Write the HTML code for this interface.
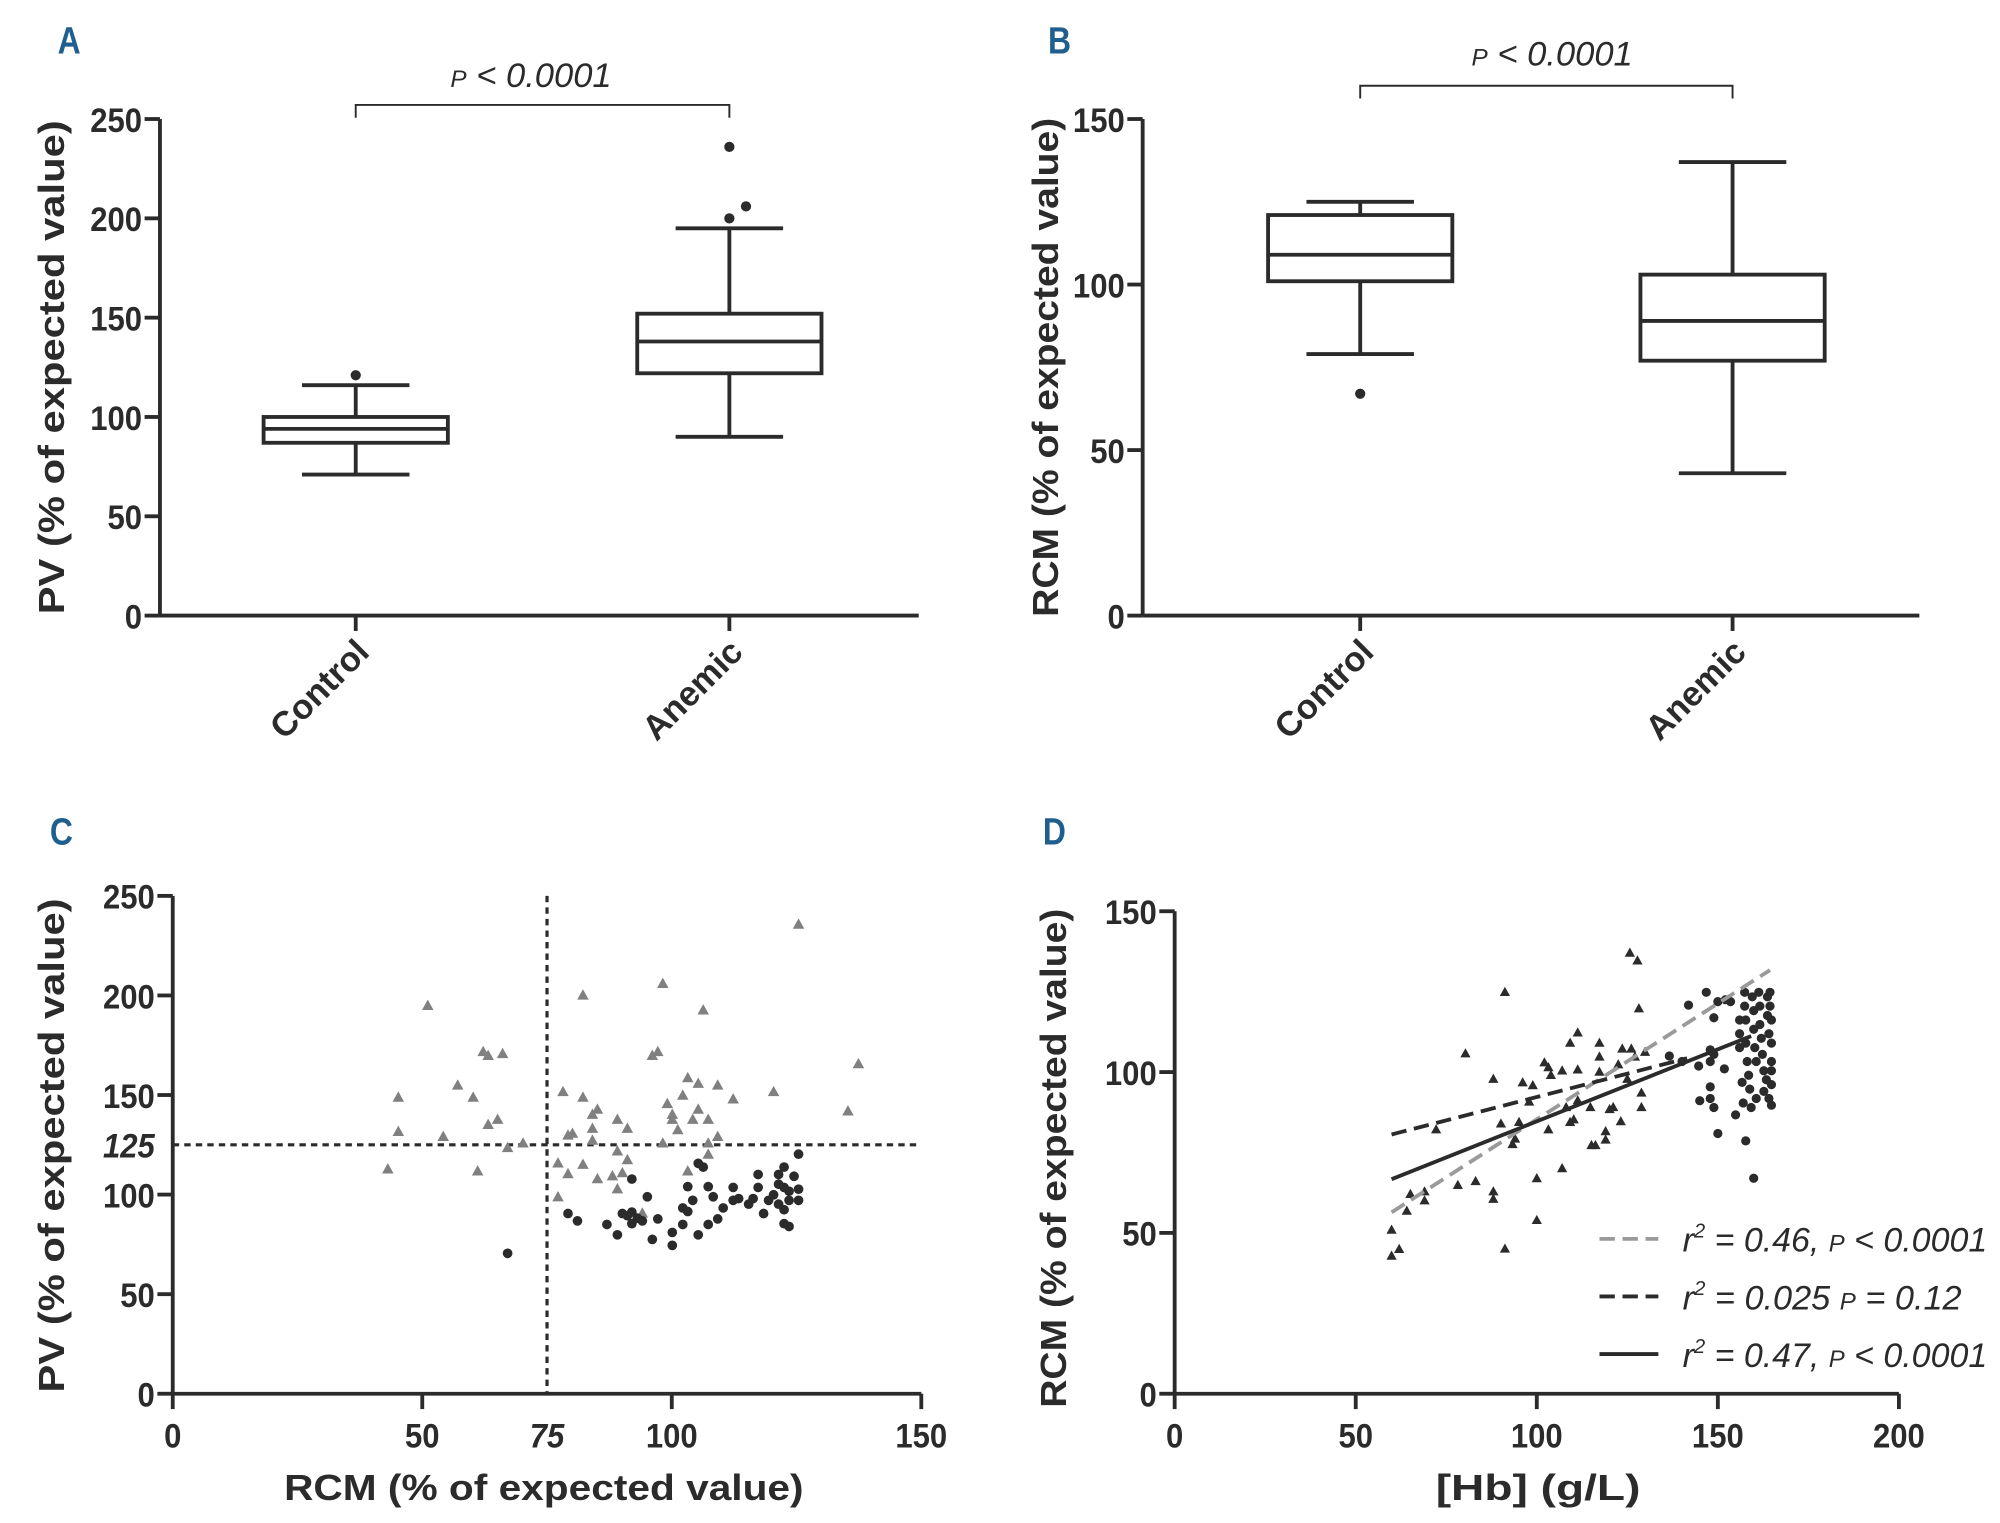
<!DOCTYPE html>
<html><head><meta charset="utf-8"><style>
html,body{margin:0;padding:0;background:#fff;}
svg{display:block;}
text{font-family:"Liberation Sans Narrow","Liberation Sans",sans-serif;fill:#2b2b2b;}
.tick{font-size:27px;font-weight:bold;}
.title{font-family:"Liberation Sans",sans-serif;font-size:28px;font-weight:bold;}
.letter{font-size:30px;font-weight:bold;fill:#1f5f8f;}
.ital{font-style:italic;font-size:27px;}
</style></head><body>
<svg id="fig" width="2000" height="1523" viewBox="0 0 1563 1190" preserveAspectRatio="none" xmlns="http://www.w3.org/2000/svg"></svg>
<script>
// ---- Panel A data (PV) ----
const aCategories = ["Control","Anemic"];
const aWhiskLow = [71, 90];
const aQ1 = [87, 122];
const aMedian = [94, 138];
const aQ3 = [100, 152];
const aWhiskHigh = [116, 195];
const aOutliers = [[121],[200,206,236]];
const aTicks = [0,50,100,150,200,250];
// ---- Panel B data (RCM) ----
const bCategories = ["Control","Anemic"];
const bWhiskLow = [79, 43];
const bQ1 = [101, 77];
const bMedian = [109, 89];
const bQ3 = [121, 103];
const bWhiskHigh = [125, 137];
const bOutliers = [[67],[]];
const bTicks = [0,50,100,150];
// ---- Panel C data ----
const cTriX = [43.1,45.2,45.2,51.1,54.2,57.1,60.2,61.1,62.2,63.2,63.2,65.1,66.1,67.1,70.2,77.2,77.2,78.2,79.2,80.1,79.2,82.2,82.2,82.2,84.1,85.1,84.1,84.1,85.1,88.1,89.1,89.1,89.1,90.1,91.1,91.1,94.1,96.1,97.2,98.2,98.2,99.1,100.1,100.1,101.2,102.2,103.2,103.2,104.2,105.3,105.3,106.3,107.3,107.3,107.3,109.2,109.2,112.3,120.4,125.4,135.3,137.4];
const cTriY = [112.7,148.7,131.5,194.8,129,154.8,148.7,111.7,171.6,169.7,135,137.6,170.6,123.4,125.7,115.7,98.7,151.5,129.7,130.6,110.3,200,148.7,115,140.1,142.7,133.1,127.1,107.8,109.2,137.6,121.7,102.7,110.8,133.1,117.3,90.5,169.7,171.6,205.8,125.7,145.5,140.1,137.6,132.4,149.7,158.5,111.7,137.6,155.7,142.7,192.5,137.6,125.7,120.1,129,154.8,147.8,151.5,235.6,141.8,165.5];
const cCirX = [67.1,79.2,81.1,87,89.1,90.1,91.1,92,93.1,92,94.1,95.1,96.1,97.2,92,100.1,100.1,102.2,102.2,103.2,104.2,103.2,105.3,106.3,105.3,107.3,107.3,108.3,109.2,110.3,112.3,112.3,113.4,115.4,116.3,117.3,117.3,118.4,119.4,120.4,121.4,121.4,122.5,122.5,122.5,123.5,123.5,124.5,125.4,125.4,125.4,121.4,123.5,122.5];
const cCirY = [70.5,90.5,86.8,85,79.8,90.5,89.4,91.2,88.2,85.4,86.8,98.9,77.5,87.8,107.8,81,74.5,93.3,85,91.5,97.1,104,115.7,113.8,79.8,85,104,98.9,87.8,93.3,97.1,103.6,98,95.2,98,103.6,110.1,90.5,97.1,99.9,110.1,95.2,113.8,103.6,85.4,84,97.1,109.2,120.3,102.7,97.1,105.2,101.7,92.4];
const cXTicks = [0,50,100,150];
const cYTicks = [0,50,100,150,200,250];
const cCutX = 75, cCutY = 125;
// ---- Panel D data ----
const dTriX = [59.9,59.9,62,64.1,65.1,69,69,72.2,78.2,80.3,83.1,88,88,88,90.1,91.2,91.2,93.3,94,95.1,96.1,97.9,98.9,102.1,103.2,103.2,103.9,100,100,107,107,108.1,109.2,109.2,110.2,111.3,111.3,111.3,114.8,115.1,116.2,117.3,117.3,117.3,119,119,120.1,121.1,122.5,123.2,123.6,125,125.7,126.1,127.1,127.8,128.2,128.9,128.9,129.9];
const dTriY = [50.9,42.8,44.9,56.8,62,62.8,60,82.1,64.8,105.7,66,97.8,62.8,60.5,83.9,124.8,45,77.5,79.2,84.4,96.7,90.7,95.8,102.9,101.4,82.1,99,66.9,53.9,100.4,70,89,109,84.4,85.2,112.2,100.7,91.1,89,77.2,77.2,109,104.7,100,81.5,78.9,88.4,89,102.3,84.6,107.2,97.8,137,107.2,104.7,134.6,119.7,93.5,89,106.2];
const dCirX = [141.9,146.8,148.9,150,152.1,153.5,136.6,140.1,144.7,147.9,147.9,148.9,151.8,145,147.9,147.9,148.9,150,154.9,157.7,159.9,156,156,156,156.7,157,157.4,157.4,157.7,157.7,158.1,158.5,158.8,159.2,159.5,159.9,159.9,160.2,160.6,160.6,161.3,161.6,161.6,162,162.3,162.7,162.7,163.4,163.7,163.7,164.1,164.1,164.4,164.4,164.8,164.8,164.8,164.8,164.8,164.8];
const dCirY = [120.8,124.8,116.9,121.9,122.5,121.9,105,103.3,101.9,106.9,103.3,105.5,101,91.1,95.4,91.8,89,80.9,86.7,78.6,67,116.2,111.9,107.6,96.8,90.4,124.8,120.5,116.2,109,103.3,99,94.7,89,123.4,119.1,113.3,107.6,103.3,91.8,124.8,120.5,114.8,110.5,105.5,100.4,94,97.6,123.4,117.6,111.9,91.8,124.8,120.5,116.2,109,103.3,100.4,89.7,96.1];
const dFitNames = ["fit-line-all","fit-line-anemic","fit-line-control-combined"];
const dFitX0 = [59.9, 59.9, 59.9];
const dFitY0 = [56.4, 80.6, 66.7];
const dFitX1 = [164.4, 141.5, 159.2];
const dFitY1 = [131.7, 104.3, 111.2];
const dLegendLabels = ["= 0.46, ", "= 0.025 ", "= 0.47, "];
const dLegendP = ["< 0.0001", "= 0.12", "< 0.0001"];
const dLegendW = [238, 218, 238];
const dXTicks = [0,50,100,150,200];
const dYTicks = [0,50,100,150];

const NS="http://www.w3.org/2000/svg";
const svg=document.getElementById('fig');
const INK="#2b2b2b";
function mk(tag,attrs,parent,text){const e=document.createElementNS(NS,tag);for(const k in attrs)e.setAttribute(k,attrs[k]);if(text!==undefined)e.textContent=text;(parent||svg).appendChild(e);return e;}
function lin(d0,d1,r0,r1){return v=>r0+(v-d0)*(r1-r0)/(d1-d0);}
function tickText(g,x,y,s,anchor,extra){
  const a={x:x,y:y,'text-anchor':anchor,class:'tick',textLength:s.length*13.5,lengthAdjust:'spacingAndGlyphs'};
  if(extra)for(const k in extra)a[k]=extra[k];
  return mk('text',a,g,s);
}

function letter(t,x,y){const e=mk('text',{x:x,y:y,class:'letter',textLength:18,lengthAdjust:'spacingAndGlyphs'},svg,t);

}

function yAxis(g,ax,y,ticks){
  const l=mk('line',{x1:ax,y1:y(ticks[ticks.length-1]),x2:ax,y2:y(0),stroke:INK,'stroke-width':3},g);
  
  
  ticks.forEach(t=>{
    const tl=mk('line',{x1:ax-12,y1:y(t),x2:ax,y2:y(t),stroke:INK,'stroke-width':3},g);
    
    
    const tx=tickText(g,ax-14,y(t)+10,String(t),'end');
    
    
  });
}
function yTitle(g,x,cy,t,len){
  const e=mk('text',{x:0,y:0,class:'title','text-anchor':'middle',transform:`translate(${x},${cy}) rotate(-90)`,textLength:len,lengthAdjust:'spacingAndGlyphs'},g,t);
  
  
}

function boxPanel(name,ax,xEnd,yTop,yBot,ticks,cats,cx,lo,q1,med,q3,hi,outs,brY,brTxtX,pY,titleX,title){
  const g=mk('g',{});
  
  
  const y=lin(0,ticks[ticks.length-1],yBot,yTop);
  yAxis(g,ax,y,ticks);
  const xl=mk('line',{x1:ax,y1:yBot,x2:xEnd,y2:yBot,stroke:INK,'stroke-width':3},g);
  
  
  yTitle(g,titleX,287,title,title.length>24?390:386);
  cats.forEach((c,i)=>{
    const x=cx[i];
    const tk=mk('line',{x1:x,y1:yBot,x2:x,y2:yBot+12,stroke:INK,'stroke-width':3},g);
    
    
    const lb=mk('text',{x:0,y:0,class:'tick',style:'font-family:"Liberation Sans",sans-serif;font-size:27px','text-anchor':'end',transform:`translate(${x+12},${yBot+30}) rotate(-45)`},g,c);
    
    
    const bg=mk('g',{stroke:INK,'stroke-width':3,fill:'none'},g);
    
    
    const hw=72,cw=42;
    mk('rect',{x:x-hw,y:y(q3[i]),width:2*hw,height:y(q1[i])-y(q3[i])},bg);
    mk('line',{x1:x-hw,y1:y(med[i]),x2:x+hw,y2:y(med[i])},bg);
    mk('line',{x1:x,y1:y(q3[i]),x2:x,y2:y(hi[i])},bg);
    mk('line',{x1:x,y1:y(q1[i]),x2:x,y2:y(lo[i])},bg);
    mk('line',{x1:x-cw,y1:y(hi[i]),x2:x+cw,y2:y(hi[i])},bg);
    mk('line',{x1:x-cw,y1:y(lo[i]),x2:x+cw,y2:y(lo[i])},bg);
    outs[i].forEach((o,k)=>{
      const dx=(outs[i].length>1&&k===1)?13:0;
      const oc=mk('circle',{cx:x+dx,cy:y(o),r:4,fill:INK,stroke:'none'},g);
      
      
    });
  });
  const br=mk('path',{d:`M${cx[0]},${brY+10} V${brY} H${cx[1]} V${brY+10}`,stroke:INK,'stroke-width':1.5,fill:'none'},g);
  
  
  const pt=mk('text',{x:brTxtX,y:pY,class:'ital','text-anchor':'middle',textLength:126,lengthAdjust:'spacingAndGlyphs'},g);
  
  
  mk('tspan',{'font-size':'19'},pt,'P');
  mk('tspan',{},pt,' < 0.0001');
}

letter('A',45,42); letter('B',819,42); letter('C',39,660); letter('D',815,660);
boxPanel('a',125,718,93,481,aTicks,aCategories,[278,570],aWhiskLow,aQ1,aMedian,aQ3,aWhiskHigh,aOutliers,82,415,68,50,'PV (% of expected value)');
boxPanel('b',893,1500,93,481,bTicks,bCategories,[1063,1354],bWhiskLow,bQ1,bMedian,bQ3,bWhiskHigh,bOutliers,67,1213,51,827,'RCM (% of expected value)');

function tri(g,cx,cy,s,fill,name){
  const h=s*0.9;
  const p=mk('polygon',{points:`${cx},${cy-h*0.6} ${cx-s/2},${cy+h*0.4} ${cx+s/2},${cy+h*0.4}`,fill:fill},g);
  
  
}
function xAxis(g,x,ticks,y0,ax0){
  ticks.forEach(t=>{
    const tl=mk('line',{x1:x(t),y1:y0,x2:x(t),y2:y0+12,stroke:INK,'stroke-width':3},g);
    
    
    const tx=tickText(g,x(t),y0+42,String(t),'middle');
    
    
  });
  const l=mk('line',{x1:ax0,y1:y0,x2:x(ticks[ticks.length-1]),y2:y0,stroke:INK,'stroke-width':3},g);
  
  
}

// Panel C
(function(){
  const g=mk('g',{});
  
  
  const x=lin(0,150,135,720), y=lin(0,250,1089,700);
  yAxis(g,135,y,cYTicks);
  xAxis(g,x,cXTicks,1089,135);
  const vl=mk('line',{x1:x(cCutX),y1:y(250),x2:x(cCutX),y2:1089,stroke:INK,'stroke-width':2.5,'stroke-dasharray':'5,4'},g);
  
  
  const hl=mk('line',{x1:135,y1:y(cCutY),x2:720,y2:y(cCutY),stroke:INK,'stroke-width':2.5,'stroke-dasharray':'5,4'},g);
  
  
  const l1=tickText(g,121,y(cCutY)+10,String(cCutY),'end',{'font-style':'italic','font-weight':'normal'});
  
  
  const l2=tickText(g,x(cCutX),1131,String(cCutX),'middle',{'font-style':'italic','font-weight':'normal'});
  
  
  cTriX.forEach((v,i)=>tri(g,x(v),y(cTriY[i]),9,'#808080','point-anemic'));
  cCirX.forEach((v,i)=>{
    const c=mk('circle',{cx:x(v),cy:y(cCirY[i]),r:3.8,fill:INK},g);
    
    
  });
  yTitle(g,50,895,'PV (% of expected value)',386);
  const xt=mk('text',{x:425,y:1172,'text-anchor':'middle',class:'title',textLength:406,lengthAdjust:'spacingAndGlyphs'},g,'RCM (% of expected value)');
  
  
})();

// Panel D
(function(){
  const g=mk('g',{});
  
  
  const x=lin(0,200,918,1484), y=lin(0,150,1089,712);
  yAxis(g,918,y,dYTicks);
  xAxis(g,x,dXTicks,1089,918);
  dTriX.forEach((v,i)=>tri(g,x(v),y(dTriY[i]),8,INK,'point-anemic'));
  dCirX.forEach((v,i)=>{
    const c=mk('circle',{cx:x(v),cy:y(dCirY[i]),r:3.6,fill:INK},g);
    
    
  });
  const styles=[{stroke:'#9a9a9a',dash:'12,6'},{stroke:INK,dash:'12,6'},{stroke:INK,dash:''}];
  dFitX0.forEach((v,i)=>{
    const a={x1:x(v),y1:y(dFitY0[i]),x2:x(dFitX1[i]),y2:y(dFitY1[i]),stroke:styles[i].stroke,'stroke-width':3};
    if(styles[i].dash)a['stroke-dasharray']=styles[i].dash;
    const l=mk('line',a,g);
    
    
    const ly=968+i*45;
    const la={x1:1250,y1:ly,x2:1296,y2:ly,stroke:styles[i].stroke,'stroke-width':3};
    if(styles[i].dash)la['stroke-dasharray']=styles[i].dash;
    const ls=mk('line',la,g);
    
    
    const t=mk('text',{x:1315,y:ly+10,class:'ital',textLength:dLegendW[i],lengthAdjust:'spacingAndGlyphs'},g);
    
    
    mk('tspan',{},t,'r');
    mk('tspan',{'font-size':'16',dy:'-11'},t,'2');
    mk('tspan',{dy:'11'},t,' '+dLegendLabels[i]);
    mk('tspan',{'font-size':'19'},t,'P');
    mk('tspan',{},t,' '+dLegendP[i]);
  });
  yTitle(g,833,905,'RCM (% of expected value)',390);
  const xt=mk('text',{x:1202,y:1172,'text-anchor':'middle',class:'title',textLength:160,lengthAdjust:'spacingAndGlyphs'},g,'[Hb] (g/L)');
  
  
})();
</script>
</body></html>
